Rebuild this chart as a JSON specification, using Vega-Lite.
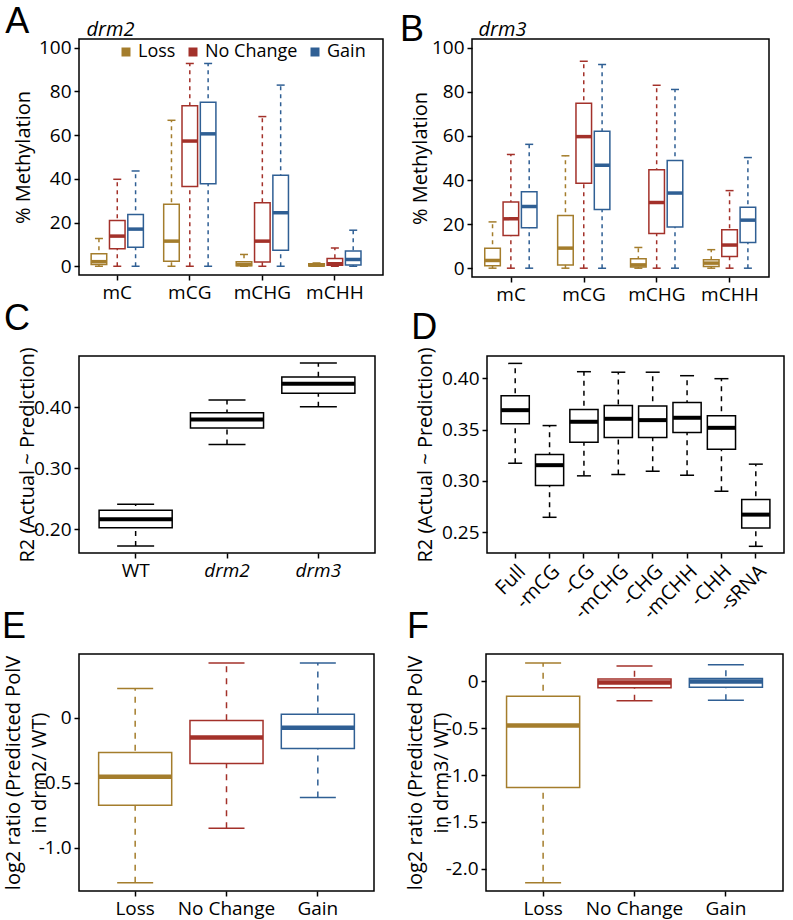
{
  "$schema": "https://vega.github.io/schema/vega-lite/v6.json",
  "padding": {"left": 1, "top": 3, "right": 0, "bottom": 0},
  "background": "white",
  "config": {
    "font": "Open Sans",
    "view": {"stroke": "black", "strokeWidth": 1.5},
    "tick": {"opacity": 1},
    "title": {"font": "Liberation Sans", "fontSize": 36, "fontWeight": "normal", "anchor": "start", "frame": "bounds", "color": "black"},
    "axis": {"domain": false, "grid": false, "tickColor": "black", "tickSize": 5, "tickWidth": 1.5, "labelFont": "Open Sans", "labelFontSize": 19, "labelColor": "black", "labelPadding": 3, "labelOverlap": false, "titleFont": "Open Sans", "titleFontSize": 20, "titleFontWeight": "normal", "titleColor": "black"}
  },
  "datasets": {
    "drm2meth": [
      {"context": "mC", "status": "Loss", "lower": 0, "q1": 0.8, "median": 2.1, "q3": 5.7, "upper": 12.7},
      {"context": "mC", "status": "No Change", "lower": 0, "q1": 8.0, "median": 13.8, "q3": 20.9, "upper": 39.8},
      {"context": "mC", "status": "Gain", "lower": 0, "q1": 8.7, "median": 17.0, "q3": 23.7, "upper": 43.6},
      {"context": "mCG", "status": "Loss", "lower": 0, "q1": 2.3, "median": 11.5, "q3": 28.4, "upper": 66.8},
      {"context": "mCG", "status": "No Change", "lower": 0, "q1": 36.5, "median": 57.3, "q3": 73.4, "upper": 92.8},
      {"context": "mCG", "status": "Gain", "lower": 0, "q1": 37.8, "median": 60.6, "q3": 75.1, "upper": 92.8},
      {"context": "mCHG", "status": "Loss", "lower": 0, "q1": 0.2, "median": 0.8, "q3": 2.1, "upper": 5.4},
      {"context": "mCHG", "status": "No Change", "lower": 0, "q1": 2.0, "median": 11.5, "q3": 29.1, "upper": 68.5},
      {"context": "mCHG", "status": "Gain", "lower": 0, "q1": 7.3, "median": 24.5, "q3": 41.7, "upper": 82.9},
      {"context": "mCHH", "status": "Loss", "lower": 0, "q1": 0.15, "median": 0.5, "q3": 1.1, "upper": 1.5},
      {"context": "mCHH", "status": "No Change", "lower": 0, "q1": 0.5, "median": 1.2, "q3": 3.5, "upper": 8.4},
      {"context": "mCHH", "status": "Gain", "lower": 0, "q1": 0.6, "median": 3.1, "q3": 7.0, "upper": 16.5}
    ],
    "drm3meth": [
      {"context": "mC", "status": "Loss", "lower": 0, "q1": 1.1, "median": 3.5, "q3": 9.1, "upper": 21.0},
      {"context": "mC", "status": "No Change", "lower": 0, "q1": 14.8, "median": 22.4, "q3": 30.0, "upper": 51.6},
      {"context": "mC", "status": "Gain", "lower": 0, "q1": 18.4, "median": 28.0, "q3": 34.7, "upper": 56.2},
      {"context": "mCG", "status": "Loss", "lower": 0, "q1": 1.5, "median": 9.1, "q3": 23.9, "upper": 51.0},
      {"context": "mCG", "status": "No Change", "lower": 0, "q1": 38.5, "median": 59.7, "q3": 74.9, "upper": 93.9},
      {"context": "mCG", "status": "Gain", "lower": 0, "q1": 26.6, "median": 46.7, "q3": 62.1, "upper": 92.4},
      {"context": "mCHG", "status": "Loss", "lower": 0, "q1": 0.5, "median": 1.5, "q3": 4.3, "upper": 9.4},
      {"context": "mCHG", "status": "No Change", "lower": 0, "q1": 15.7, "median": 29.8, "q3": 44.7, "upper": 83.0},
      {"context": "mCHG", "status": "Gain", "lower": 0, "q1": 18.7, "median": 34.1, "q3": 48.9, "upper": 81.1},
      {"context": "mCHH", "status": "Loss", "lower": 0, "q1": 0.8, "median": 2.3, "q3": 3.8, "upper": 8.4},
      {"context": "mCHH", "status": "No Change", "lower": 0, "q1": 5.3, "median": 10.5, "q3": 17.4, "upper": 35.2},
      {"context": "mCHH", "status": "Gain", "lower": 0, "q1": 11.7, "median": 21.8, "q3": 27.7, "upper": 50.2}
    ],
    "r2": [
      {"genotype": "WT", "lower": 0.172, "q1": 0.202, "median": 0.216, "q3": 0.231, "upper": 0.241},
      {"genotype": "drm2", "lower": 0.339, "q1": 0.366, "median": 0.380, "q3": 0.391, "upper": 0.412},
      {"genotype": "drm3", "lower": 0.401, "q1": 0.423, "median": 0.439, "q3": 0.450, "upper": 0.473}
    ],
    "r2drop": [
      {"model": "Full", "lower": 0.3173, "q1": 0.3557, "median": 0.369, "q3": 0.383, "upper": 0.4146},
      {"model": "-mCG", "lower": 0.2646, "q1": 0.2955, "median": 0.3154, "q3": 0.3258, "upper": 0.354},
      {"model": "-CG", "lower": 0.305, "q1": 0.3378, "median": 0.3577, "q3": 0.3697, "upper": 0.4065},
      {"model": "-mCHG", "lower": 0.3063, "q1": 0.3424, "median": 0.3606, "q3": 0.3736, "upper": 0.406},
      {"model": "-CHG", "lower": 0.3095, "q1": 0.3424, "median": 0.3593, "q3": 0.373, "upper": 0.406},
      {"model": "-mCHH", "lower": 0.3056, "q1": 0.3473, "median": 0.3616, "q3": 0.3766, "upper": 0.4026},
      {"model": "-CHH", "lower": 0.29, "q1": 0.331, "median": 0.3518, "q3": 0.3636, "upper": 0.3997},
      {"model": "-sRNA", "lower": 0.2363, "q1": 0.2542, "median": 0.2672, "q3": 0.2819, "upper": 0.3164}
    ],
    "polv2": [
      {"status": "Loss", "lower": -1.269, "q1": -0.674, "median": -0.456, "q3": -0.269, "upper": 0.223},
      {"status": "No Change", "lower": -0.851, "q1": -0.354, "median": -0.154, "q3": -0.023, "upper": 0.418},
      {"status": "Gain", "lower": -0.615, "q1": -0.238, "median": -0.079, "q3": 0.026, "upper": 0.418}
    ],
    "polv3": [
      {"status": "Loss", "lower": -2.15, "q1": -1.134, "median": -0.471, "q3": -0.157, "upper": 0.196},
      {"status": "No Change", "lower": -0.207, "q1": -0.068, "median": -0.011, "q3": 0.025, "upper": 0.164},
      {"status": "Gain", "lower": -0.2, "q1": -0.061, "median": 0.0, "q3": 0.032, "upper": 0.178}
    ]
  },
  "columns": 1,
  "align": "none",
  "spacing": -5,
  "concat": [
    {
      "spacing": 15,
      "hconcat": [
        {
          "width": 304, "height": 236,
          "data": {"name": "drm2meth"},
          "title": {"text": "A", "offset": -22, "dx": -7.7},
          "encoding": {
            "x": {"field": "context", "type": "nominal", "sort": ["mC", "mCG", "mCHG", "mCHH"], "scale": {"paddingInner": 0.242, "paddingOuter": 0.2165, "align": 0.343}, "axis": null},
            "xOffset": {"field": "status", "type": "nominal", "sort": ["Loss", "No Change", "Gain"], "scale": {"paddingInner": 0.15, "paddingOuter": 0.075}}
          },
          "layer": [
            {"mark": {"type": "rule", "strokeDash": [4, 4], "strokeWidth": 1.5},
             "encoding": {
               "x": {"field": "context", "type": "nominal", "sort": ["mC", "mCG", "mCHG", "mCHH"], "scale": {"paddingInner": 0.242, "paddingOuter": 0.2165, "align": 0.343}, "axis": {"title": null, "labelAngle": 0}},
               "y": {"field": "lower", "type": "quantitative", "scale": {"domain": [-4, 104], "nice": false, "zero": false}, "axis": {"title": "% Methylation", "values": [0, 20, 40, 60, 80, 100], "minExtent": 40, "maxExtent": 40, "titlePadding": 6}},
               "y2": {"field": "upper"},
               "stroke": {"field": "status", "type": "nominal", "scale": {"domain": ["Loss", "No Change", "Gain"], "range": ["#a47d2c", "#a3312a", "#2f5f94"]}, "legend": {"orient": "none", "legendX": 38, "legendY": 4, "direction": "horizontal", "title": null, "symbolType": "square", "symbolSize": 16, "symbolStrokeWidth": 5, "labelFontSize": 18, "labelFont": "Open Sans", "labelColor": "black", "labelOffset": 3, "columnPadding": 5, "padding": 0}}
             }},
            {"mark": {"type": "bar", "fill": "white", "strokeWidth": 1.5},
             "encoding": {"y": {"field": "q1", "type": "quantitative"}, "y2": {"field": "q3"}, "stroke": {"field": "status", "type": "nominal"}}},
            {"mark": {"type": "tick", "thickness": 1.5, "size": 8, "opacity": 1},
             "encoding": {"y": {"field": "lower", "type": "quantitative"}, "color": {"field": "status", "type": "nominal", "scale": {"domain": ["Loss", "No Change", "Gain"], "range": ["#a47d2c", "#a3312a", "#2f5f94"]}, "legend": null}}},
            {"mark": {"type": "tick", "thickness": 1.5, "size": 8, "opacity": 1},
             "encoding": {"y": {"field": "upper", "type": "quantitative"}, "color": {"field": "status", "type": "nominal", "legend": null}}},
            {"mark": {"type": "tick", "thickness": 3.5, "size": 15.5, "opacity": 1},
             "encoding": {
               "x": {"field": "context", "type": "nominal", "sort": ["mC", "mCG", "mCHG", "mCHH"], "scale": {"paddingInner": 0.242, "paddingOuter": 0.2165, "align": 0.343}, "axis": {"orient": "top", "title": "drm2", "titleFontStyle": "italic", "titleFontSize": 20, "titleX": 7, "titleAlign": "left", "titlePadding": 0, "labels": false, "ticks": false, "domain": false}},
               "y": {"field": "median", "type": "quantitative"},
               "color": {"field": "status", "type": "nominal", "legend": null}
             }}
          ],
          "resolve": {"axis": {"x": "independent"}}
        },
        {
          "width": 297, "height": 238,
          "data": {"name": "drm3meth"},
          "title": {"text": "B", "offset": -30, "dx": -10},
          "encoding": {
            "x": {"field": "context", "type": "nominal", "sort": ["mC", "mCG", "mCHG", "mCHH"], "scale": {"paddingInner": 0.238, "paddingOuter": 0.156, "align": 0.5}, "axis": null},
            "xOffset": {"field": "status", "type": "nominal", "sort": ["Loss", "No Change", "Gain"], "scale": {"paddingInner": 0.15, "paddingOuter": 0.075}}
          },
          "layer": [
            {"mark": {"type": "rule", "strokeDash": [4, 4], "strokeWidth": 1.5},
             "encoding": {
               "x": {"field": "context", "type": "nominal", "sort": ["mC", "mCG", "mCHG", "mCHH"], "scale": {"paddingInner": 0.238, "paddingOuter": 0.156, "align": 0.5}, "axis": {"title": null, "labelAngle": 0}},
               "y": {"field": "lower", "type": "quantitative", "scale": {"domain": [-4, 104], "nice": false, "zero": false}, "axis": {"title": "% Methylation", "values": [0, 20, 40, 60, 80, 100], "minExtent": 42, "maxExtent": 42, "titlePadding": 0}},
               "y2": {"field": "upper"},
               "stroke": {"field": "status", "type": "nominal", "scale": {"domain": ["Loss", "No Change", "Gain"], "range": ["#a47d2c", "#a3312a", "#2f5f94"]}, "legend": {"orient": "none", "legendX": 35, "legendY": 1.5, "direction": "horizontal", "title": null, "symbolType": "square", "symbolSize": 16, "symbolStrokeWidth": 5, "labelFontSize": 18, "labelFont": "Open Sans", "labelColor": "black", "labelOffset": 3, "columnPadding": 9, "padding": 0}}
             }},
            {"mark": {"type": "bar", "fill": "white", "strokeWidth": 1.5},
             "encoding": {"y": {"field": "q1", "type": "quantitative"}, "y2": {"field": "q3"}, "stroke": {"field": "status", "type": "nominal"}}},
            {"mark": {"type": "tick", "thickness": 1.5, "size": 8, "opacity": 1},
             "encoding": {"y": {"field": "lower", "type": "quantitative"}, "color": {"field": "status", "type": "nominal", "scale": {"domain": ["Loss", "No Change", "Gain"], "range": ["#a47d2c", "#a3312a", "#2f5f94"]}, "legend": null}}},
            {"mark": {"type": "tick", "thickness": 1.5, "size": 8, "opacity": 1},
             "encoding": {"y": {"field": "upper", "type": "quantitative"}, "color": {"field": "status", "type": "nominal", "legend": null}}},
            {"mark": {"type": "tick", "thickness": 3.5, "size": 15.5, "opacity": 1},
             "encoding": {
               "x": {"field": "context", "type": "nominal", "sort": ["mC", "mCG", "mCHG", "mCHH"], "scale": {"paddingInner": 0.238, "paddingOuter": 0.156, "align": 0.5}, "axis": {"orient": "top", "title": "drm3", "titleFontStyle": "italic", "titleFontSize": 20, "titleX": 6, "titleAlign": "left", "titlePadding": 0, "labels": false, "ticks": false, "domain": false}},
               "y": {"field": "median", "type": "quantitative"},
               "color": {"field": "status", "type": "nominal", "legend": null}
             }}
          ],
          "resolve": {"axis": {"x": "independent"}}
        }
      ]
    },
    {
      "columns": 1,
      "align": "none",
      "spacing": -16,
      "concat": [
        {
          "spacing": 34,
          "hconcat": [
            {
              "width": 296, "height": 197,
              "data": {"name": "r2"},
              "title": {"text": "C", "offset": 9, "dx": -13},
              "encoding": {
                "x": {"field": "genotype", "type": "nominal", "sort": ["WT", "drm2", "drm3"], "scale": {"paddingInner": 0.2, "paddingOuter": 0.22}, "axis": {"title": null, "labelAngle": 0, "labelFontStyle": {"condition": {"test": "datum.value !== 'WT'", "value": "italic"}, "value": "normal"}}}
              },
              "layer": [
                {"mark": {"type": "rule", "strokeDash": [5, 5], "strokeWidth": 1.5, "color": "black"},
                 "encoding": {
                   "y": {"field": "lower", "type": "quantitative", "scale": {"domain": [0.1607, 0.4844], "nice": false, "zero": false}, "axis": {"title": "R2 (Actual ~ Prediction)", "values": [0.2, 0.25, 0.3, 0.35, 0.4, 0.45], "labelExpr": "(abs(datum.value - 0.25) < 0.001 || abs(datum.value - 0.35) < 0.001) ? '' : format(datum.value, '.2f')", "minExtent": 42, "maxExtent": 42, "titlePadding": 0}},
                   "y2": {"field": "upper"}
                 }},
                {"mark": {"type": "bar", "fill": "white", "stroke": "black", "strokeWidth": 1.5},
                 "encoding": {"y": {"field": "q1", "type": "quantitative"}, "y2": {"field": "q3"}}},
                {"mark": {"type": "tick", "thickness": 1.5, "size": 37, "color": "black", "opacity": 1},
                 "encoding": {"y": {"field": "lower", "type": "quantitative"}}},
                {"mark": {"type": "tick", "thickness": 1.5, "size": 37, "color": "black", "opacity": 1},
                 "encoding": {"y": {"field": "upper", "type": "quantitative"}}},
                {"mark": {"type": "tick", "thickness": 4, "size": 73, "color": "black", "opacity": 1},
                 "encoding": {"y": {"field": "median", "type": "quantitative"}}}
              ]
            },
            {
              "width": 297, "height": 197,
              "data": {"name": "r2drop"},
              "title": {"text": "D", "offset": 0, "dx": -3.7},
              "encoding": {
                "x": {"field": "model", "type": "nominal", "sort": ["Full", "-mCG", "-CG", "-mCHG", "-CHG", "-mCHH", "-CHH", "-sRNA"], "scale": {"paddingInner": 0.18, "paddingOuter": 0.41}, "axis": {"title": null, "labelAngle": -45, "labelFontSize": 20}}
              },
              "layer": [
                {"mark": {"type": "rule", "strokeDash": [5, 5], "strokeWidth": 1.5, "color": "black"},
                 "encoding": {
                   "y": {"field": "lower", "type": "quantitative", "scale": {"domain": [0.2298, 0.4218], "nice": false, "zero": false}, "axis": {"title": "R2 (Actual ~ Prediction)", "values": [0.25, 0.3, 0.35, 0.4], "format": ".2f", "minExtent": 47, "maxExtent": 47, "titlePadding": 5}},
                   "y2": {"field": "upper"}
                 }},
                {"mark": {"type": "bar", "fill": "white", "stroke": "black", "strokeWidth": 1.5},
                 "encoding": {"y": {"field": "q1", "type": "quantitative"}, "y2": {"field": "q3"}}},
                {"mark": {"type": "tick", "thickness": 1.5, "size": 14, "color": "black", "opacity": 1},
                 "encoding": {"y": {"field": "lower", "type": "quantitative"}}},
                {"mark": {"type": "tick", "thickness": 1.5, "size": 14, "color": "black", "opacity": 1},
                 "encoding": {"y": {"field": "upper", "type": "quantitative"}}},
                {"mark": {"type": "tick", "thickness": 4, "size": 28, "color": "black", "opacity": 1},
                 "encoding": {"y": {"field": "median", "type": "quantitative"}}}
              ]
            }
          ]
        },
        {
          "spacing": 29,
          "hconcat": [
            {
              "width": 295, "height": 237,
              "data": {"name": "polv2"},
              "title": {"text": "E", "offset": 8, "dx": -1},
              "encoding": {
                "x": {"field": "status", "type": "nominal", "sort": ["Loss", "No Change", "Gain"], "scale": {"paddingInner": 0.2, "paddingOuter": 0.215}, "axis": {"title": null, "labelAngle": 0}}
              },
              "layer": [
                {"mark": {"type": "rule", "strokeDash": [6, 6], "strokeWidth": 1.5},
                 "encoding": {
                   "y": {"field": "lower", "type": "quantitative", "scale": {"domain": [-1.333, 0.488], "nice": false, "zero": false}, "axis": {"title": ["log2 ratio (Predicted PolV", "in drm2/ WT)"], "titleLineHeight": 26, "values": [-1, -0.5, 0], "labelExpr": "datum.value == 0 ? '0' : (datum.value < 0 ? '-' : '') + format(abs(datum.value), '.1f')", "minExtent": 27, "maxExtent": 27, "titlePadding": 3}},
                   "y2": {"field": "upper"},
                   "stroke": {"field": "status", "type": "nominal", "scale": {"domain": ["Loss", "No Change", "Gain"], "range": ["#a47d2c", "#a3312a", "#2f5f94"]}, "legend": null}
                 }},
                {"mark": {"type": "bar", "fill": "white", "strokeWidth": 1.5},
                 "encoding": {"y": {"field": "q1", "type": "quantitative"}, "y2": {"field": "q3"}, "stroke": {"field": "status", "type": "nominal", "legend": null}}},
                {"mark": {"type": "tick", "thickness": 1.5, "size": 36, "opacity": 1},
                 "encoding": {"y": {"field": "lower", "type": "quantitative"}, "color": {"field": "status", "type": "nominal", "scale": {"domain": ["Loss", "No Change", "Gain"], "range": ["#a47d2c", "#a3312a", "#2f5f94"]}, "legend": null}}},
                {"mark": {"type": "tick", "thickness": 1.5, "size": 36, "opacity": 1},
                 "encoding": {"y": {"field": "upper", "type": "quantitative"}, "color": {"field": "status", "type": "nominal", "legend": null}}},
                {"mark": {"type": "tick", "thickness": 4.5, "size": 73, "opacity": 1},
                 "encoding": {"y": {"field": "median", "type": "quantitative"}, "color": {"field": "status", "type": "nominal", "legend": null}}}
              ]
            },
            {
              "width": 297, "height": 237,
              "data": {"name": "polv3"},
              "title": {"text": "F", "offset": 8, "dx": 2},
              "encoding": {
                "x": {"field": "status", "type": "nominal", "sort": ["Loss", "No Change", "Gain"], "scale": {"paddingInner": 0.2, "paddingOuter": 0.225}, "axis": {"title": null, "labelAngle": 0}}
              },
              "layer": [
                {"mark": {"type": "rule", "strokeDash": [6, 6], "strokeWidth": 1.5},
                 "encoding": {
                   "y": {"field": "lower", "type": "quantitative", "scale": {"domain": [-2.238, 0.293], "nice": false, "zero": false}, "axis": {"title": ["log2 ratio (Predicted PolV", "in drm3/ WT)"], "titleLineHeight": 26, "values": [-2, -1.5, -1, -0.5, 0], "labelExpr": "datum.value == 0 ? '0' : (datum.value < 0 ? '-' : '') + format(abs(datum.value), '.1f')", "minExtent": 30, "maxExtent": 30, "titlePadding": 5}},
                   "y2": {"field": "upper"},
                   "stroke": {"field": "status", "type": "nominal", "scale": {"domain": ["Loss", "No Change", "Gain"], "range": ["#a47d2c", "#a3312a", "#2f5f94"]}, "legend": null}
                 }},
                {"mark": {"type": "bar", "fill": "white", "strokeWidth": 1.5},
                 "encoding": {"y": {"field": "q1", "type": "quantitative"}, "y2": {"field": "q3"}, "stroke": {"field": "status", "type": "nominal", "legend": null}}},
                {"mark": {"type": "tick", "thickness": 1.5, "size": 36, "opacity": 1},
                 "encoding": {"y": {"field": "lower", "type": "quantitative"}, "color": {"field": "status", "type": "nominal", "scale": {"domain": ["Loss", "No Change", "Gain"], "range": ["#a47d2c", "#a3312a", "#2f5f94"]}, "legend": null}}},
                {"mark": {"type": "tick", "thickness": 1.5, "size": 36, "opacity": 1},
                 "encoding": {"y": {"field": "upper", "type": "quantitative"}, "color": {"field": "status", "type": "nominal", "legend": null}}},
                {"mark": {"type": "tick", "thickness": 4.5, "size": 73, "opacity": 1},
                 "encoding": {"y": {"field": "median", "type": "quantitative"}, "color": {"field": "status", "type": "nominal", "legend": null}}}
              ]
            }
          ]
        }
      ]
    }
  ]
}
